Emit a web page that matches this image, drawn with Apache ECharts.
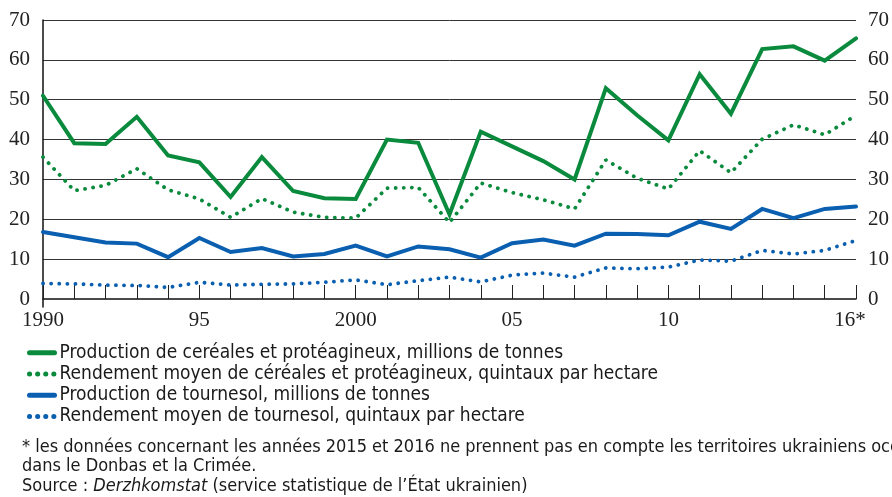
<!DOCTYPE html>
<html><head><meta charset="utf-8">
<script src="https://cdn.jsdelivr.net/npm/echarts@6/dist/echarts.min.js"></script>
<style>html,body{margin:0;padding:0;background:#fff}#c{width:892px;height:497px}</style>
</head><body><div id="c"></div>
<script>
const years = ['1990','1991','1992','1993','1994','1995','1996','1997','1998','1999','2000','2001','2002','2003','2004','2005','2006','2007','2008','2009','2010','2011','2012','2013','2014','2015','2016'];
const labelYears = ['1990','1995','2000','2005','2010','2016'];
const labelTexts = ['1990','95','2000','05','10','16*'];
const yLabelValues = [0,10,20,30,40,50,60,70];
const yGridValues = [10,20,30,40,50,60,70];

const cerealProd = [51.0,39.1,38.9,45.7,36.0,34.3,25.6,35.6,27.1,25.3,25.1,40.0,39.2,21.2,42.0,38.3,34.6,30.0,52.9,46.1,39.8,56.4,46.5,62.7,63.4,59.8,65.4];
const cerealYield = [35.6,27.2,28.5,32.7,27.4,25.1,20.5,25.2,21.8,20.5,20.3,27.8,28.0,19.2,29.1,26.7,24.9,22.6,34.9,30.3,27.6,37.2,31.7,40.1,43.7,41.2,46.1];
const sunProd = [16.8,15.5,14.2,13.9,10.5,15.3,11.8,12.8,10.7,11.3,13.4,10.7,13.2,12.5,10.4,14.0,14.9,13.4,16.4,16.3,16.0,19.4,17.6,22.6,20.3,22.6,23.2];
const sunYield = [3.9,3.8,3.5,3.4,2.9,4.2,3.5,3.7,3.8,4.2,4.8,3.6,4.6,5.5,4.3,6.0,6.5,5.5,7.8,7.6,8.0,9.8,9.5,12.2,11.3,12.2,14.7];

const names = [
  'Production de ceréales et protéagineux, millions de tonnes',
  'Rendement moyen de céréales et protéagineux, quintaux par hectare',
  'Production de tournesol, millions de tonnes',
  'Rendement moyen de tournesol, quintaux par hectare'
];
const GREEN = '#0a8a3c', BLUE = '#0a5fb0';
const serif = '"Liberation Serif", "DejaVu Serif", serif';
const sans = '"Liberation Sans Narrow", "DejaVu Sans Condensed", "Liberation Sans", sans-serif';

function solid(name, data, color){
  return {name, type:'line', data, symbol:'none', showSymbol:false, z:3,
    lineStyle:{color, width:4, cap:'round', join:'miter'}, itemStyle:{color}};
}
function dotted(name, data, color){
  return {name, type:'line', data, symbol:'none', showSymbol:false, z:2,
    lineStyle:{color, width:3.8, type:[0.1, 8], cap:'round'}, itemStyle:{color}};
}
const noteStyle = {fontFamily:sans, fontSize:18, fontWeight:'normal', color:'#1a1a1a', lineHeight:20};

const chart = echarts.init(document.getElementById('c'), null, {renderer:'canvas'});
chart.setOption({
  animation:false,
  backgroundColor:'#fff',
  grid:{left:43, right:33, top:20, bottom:190, containLabel:false},
  xAxis:{type:'category', data:years, boundaryGap:false,
    axisLine:{show:true, lineStyle:{color:'#111', width:1.5}},
    axisTick:{show:true, inside:true, length:14, interval:0, lineStyle:{color:'#222', width:1}},
    axisLabel:{interval:(i,v)=>labelYears.indexOf(v)>=0, margin:3,
      formatter:(v)=>{const k=labelYears.indexOf(v); const t=labelTexts[k]; return t.indexOf('*')>=0 ? '{s|'+t+'}' : t;},
      color:'#222', fontFamily:serif, fontSize:21,
      rich:{s:{fontFamily:serif, fontSize:21, color:'#222', padding:[0,12,0,0]}}},
    splitLine:{show:false}},
  yAxis:[
    {type:'value', min:-2, max:70, position:'left',
      axisLine:{show:true, lineStyle:{color:'#111', width:1.5}},
      axisTick:{show:false, customValues:yGridValues},
      axisLabel:{customValues:yLabelValues, margin:13, color:'#222', fontFamily:serif, fontSize:21},
      splitLine:{show:true, lineStyle:{color:'#333', width:1}}},
    {type:'value', min:-2, max:70, position:'right',
      axisLine:{show:false}, axisTick:{show:false},
      axisLabel:{customValues:yLabelValues, margin:12, color:'#222', fontFamily:serif, fontSize:21},
      splitLine:{show:false}}
  ],
  legend:{orient:'vertical', left:27, top:342, padding:0, itemWidth:25, itemHeight:10, itemGap:0,
    data:names,
    lineStyle:{width:5},
    itemStyle:{opacity:0, borderWidth:0},
    textStyle:{fontFamily:sans, fontSize:19, color:'#1a1a1a', lineHeight:21.3}},
  title:[
    {text:'* les données concernant les années 2015 et 2016 ne prennent pas en compte les territoires ukrainiens occupés', left:22, top:437, padding:0,
      textStyle:noteStyle},
    {text:'dans le Donbas et la Crimée.', left:22, top:456, padding:0,
      textStyle:noteStyle},
    {text:'Source : {i|Derzhkomstat} (service statistique de l\u2019État ukrainien)', left:22, top:476, padding:0,
      textStyle:Object.assign({}, noteStyle, {
        rich:{i:{fontFamily:sans, fontSize:18, fontStyle:'italic', color:'#1a1a1a', lineHeight:20}}})}
  ],
  series:[
    solid(names[0], cerealProd, GREEN),
    dotted(names[1], cerealYield, GREEN),
    solid(names[2], sunProd, BLUE),
    dotted(names[3], sunYield, BLUE)
  ]
});
</script></body></html>
